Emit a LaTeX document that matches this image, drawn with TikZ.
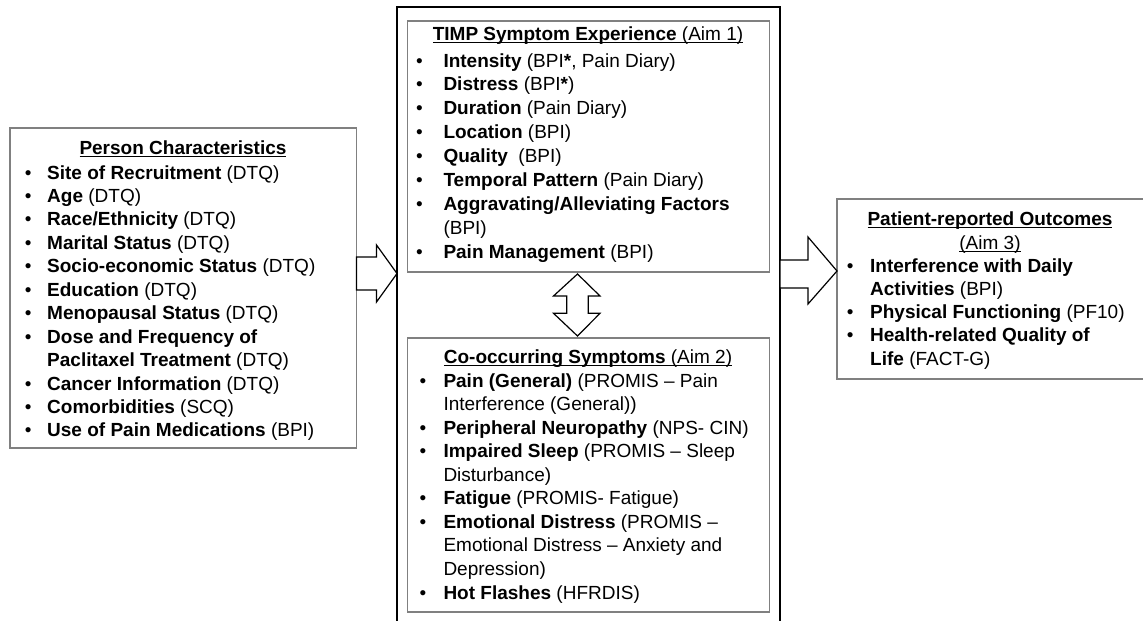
\documentclass[tikz,border=0pt]{standalone}
\usepackage{fontspec}
\setmainfont{Liberation Sans}
\definecolor{boxgray}{RGB}{128,128,128}
\newlength\bo
\newcommand\bi[1]{\noindent\llap{\makebox[0pt][c]{•}\hspace{\bo}}#1\par}
\newcommand\ci[1]{\noindent#1\par}
\newcommand\myul[1]{\setbox0\hbox{#1}\rlap{\rule[-3pt]{\wd0}{1.3pt}}\box0}
\lineskiplimit=-100pt
\lineskip=0pt
\begin{document}
\begin{tikzpicture}[x=1pt,y=-1pt,
  box/.style={draw=boxgray, line width=1.4pt, inner sep=0pt, outer sep=0pt, anchor=north west, fill=white},
  frame/.style={draw=black, line width=2pt, inner sep=0pt, outer sep=0pt, anchor=north west},
  ttl/.style={inner sep=0pt, anchor=base, font=\fontsize{19}{23}\selectfont},
  lst/.style={inner sep=0pt, anchor=base west},
  blk/.style={draw=black, line width=1.2pt, fill=white, line join=miter}]
\clip (0,0) rectangle (1143,621);
\fill[white] (0,0) rectangle (1143,621);

% boxes
\node[frame, minimum width=383pt, minimum height=660pt] (mid) at (397,7) {};
\node[box, minimum width=346.5pt, minimum height=320pt] (pc) at (10,128) {};
\node[box, minimum width=362.2pt, minimum height=251pt] (timp) at (407.3,21) {};
\node[box, minimum width=362.2pt, minimum height=274pt] (co) at (407.3,338) {};
\node[box, minimum width=330pt, minimum height=180pt] (pro) at (837,199) {};

% block arrows
\draw[blk] (356.5,257) -- (376.5,257) -- (376.5,245) -- (397,273.5) -- (376.5,302) -- (376.5,290) -- (356.5,290) -- cycle;
\draw[blk] (780,260) -- (808,260) -- (808,237) -- (837,271) -- (808,304) -- (808,288) -- (780,288) -- cycle;
\draw[blk] (577.5,274) -- (600,296) -- (588.3,296) -- (588.3,313.3) -- (600,313.3) -- (577.5,336) -- (553.5,313.3) -- (566.7,313.3) -- (566.7,296) -- (553.5,296) -- cycle;

% Person characteristics
\node[ttl] (pct) at (183,154) {\myul{\textbf{Person Characteristics}}};
\node[lst] (pcl) at (47,179) {\parbox[t]{320pt}{\fontsize{19}{23.45}\selectfont\setlength\bo{19pt}%
\bi{\textbf{Site of Recruitment} (DTQ)}
\bi{\textbf{Age} (DTQ)}
\bi{\textbf{Race/Ethnicity} (DTQ)}
\bi{\textbf{Marital Status} (DTQ)}
\bi{\textbf{Socio-economic Status} (DTQ)}
\bi{\textbf{Education} (DTQ)}
\bi{\textbf{Menopausal Status} (DTQ)}
\bi{\textbf{Dose and Frequency of}}
\ci{\textbf{Paclitaxel Treatment} (DTQ)}
\bi{\textbf{Cancer Information} (DTQ)}
\bi{\textbf{Comorbidities} (SCQ)}
\bi{\textbf{Use of Pain Medications} (BPI)}}};

% TIMP
\node[ttl] (timpt) at (588,40) {\myul{\textbf{TIMP Symptom Experience} (Aim 1)}};
\node[lst] (timpl) at (443.3,67) {\parbox[t]{330pt}{\fontsize{19}{23.9}\selectfont\setlength\bo{24pt}%
\bi{\textbf{Intensity} (BPI\textbf{*}, Pain Diary)}
\bi{\textbf{Distress} (BPI\textbf{*})}
\bi{\textbf{Duration} (Pain Diary)}
\bi{\textbf{Location} (BPI)}
\bi{\textbf{Quality} \ (BPI)}
\bi{\textbf{Temporal Pattern} (Pain Diary)}
\bi{\textbf{Aggravating/Alleviating Factors}}
\ci{(BPI)}
\bi{\textbf{Pain Management} (BPI)}}};

% Co-occurring
\node[ttl] (cot) at (588,363) {\myul{\textbf{Co-occurring Symptoms} (Aim 2)}};
\node[lst] (col) at (443.3,387) {\parbox[t]{330pt}{\fontsize{19}{23.56}\selectfont\setlength\bo{20.6pt}%
\bi{\textbf{Pain (General)} (PROMIS – Pain}
\ci{Interference (General))}
\bi{\textbf{Peripheral Neuropathy} (NPS- CIN)}
\bi{\textbf{Impaired Sleep} (PROMIS – Sleep}
\ci{Disturbance)}
\bi{\textbf{Fatigue} (PROMIS- Fatigue)}
\bi{\textbf{Emotional Distress} (PROMIS –}
\ci{Emotional Distress – Anxiety and}
\ci{Depression)}
\bi{\textbf{Hot Flashes} (HFRDIS)}}};

% Patient-reported outcomes
\node[ttl] (prot) at (990,225) {\myul{\textbf{Patient-reported Outcomes}}};
\node[ttl] (proa) at (990,249) {\myul{(Aim 3)}};
\node[lst] (prol) at (870,272) {\parbox[t]{300pt}{\fontsize{19}{23.25}\selectfont\setlength\bo{20pt}%
\bi{\textbf{Interference with Daily}}
\ci{\textbf{Activities} (BPI)}
\bi{\textbf{Physical Functioning} (PF10)}
\bi{\textbf{Health-related Quality of}}
\ci{\textbf{Life} (FACT-G)}}};
\end{tikzpicture}
\end{document}
